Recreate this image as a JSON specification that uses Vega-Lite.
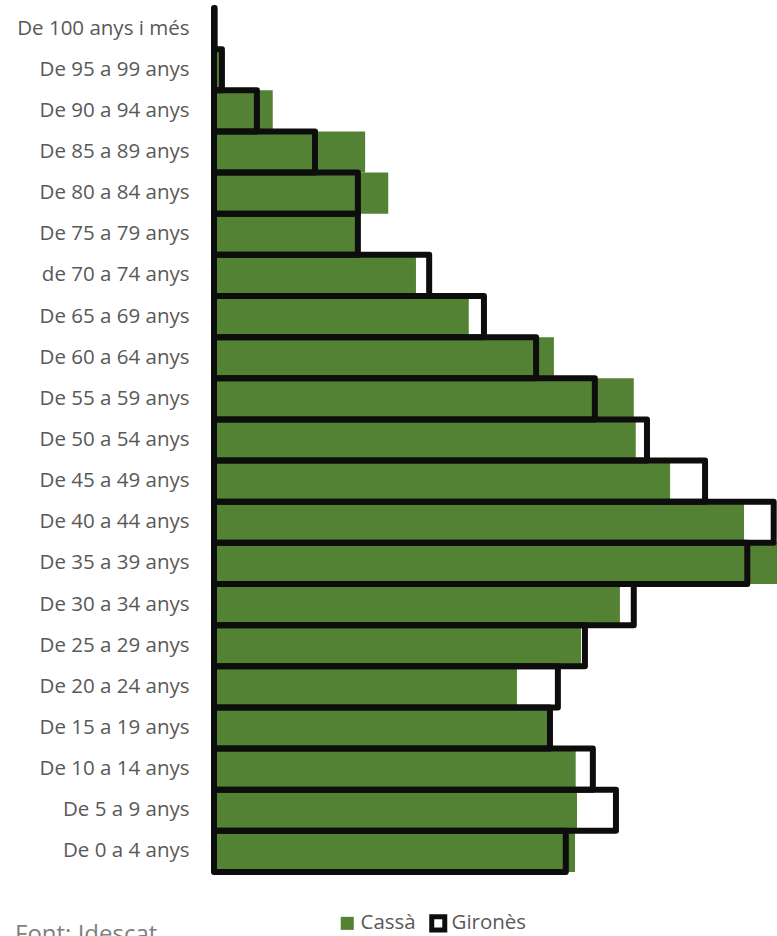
{
  "$schema": "https://vega.github.io/schema/vega-lite/v6.json",
  "width": 563,
  "height": 864,
  "autosize": {"type": "none"},
  "padding": {"left": 214, "top": 8, "right": 0, "bottom": 64},
  "background": "white",
  "config": {
    "view": {"stroke": null},
    "font": "Open Sans"
  },
  "title": {
    "text": "Font: Idescat",
    "orient": "bottom",
    "anchor": "start",
    "frame": "group",
    "dx": -199,
    "offset": -17,
    "baseline": "top",
    "fontSize": 24,
    "fontWeight": "normal",
    "color": "#7f7f7f",
    "font": "Open Sans"
  },
  "data": {
    "values": [
      {"grup": "De 100 anys i més", "serie": "Cassà", "valor": 0.02},
      {"grup": "De 95 a 99 anys", "serie": "Cassà", "valor": 0.08},
      {"grup": "De 90 a 94 anys", "serie": "Cassà", "valor": 0.89},
      {"grup": "De 85 a 89 anys", "serie": "Cassà", "valor": 2.29},
      {"grup": "De 80 a 84 anys", "serie": "Cassà", "valor": 2.64},
      {"grup": "De 75 a 79 anys", "serie": "Cassà", "valor": 2.15},
      {"grup": "de 70 a 74 anys", "serie": "Cassà", "valor": 3.06},
      {"grup": "De 65 a 69 anys", "serie": "Cassà", "valor": 3.86},
      {"grup": "De 60 a 64 anys", "serie": "Cassà", "valor": 5.15},
      {"grup": "De 55 a 59 anys", "serie": "Cassà", "valor": 6.36},
      {"grup": "De 50 a 54 anys", "serie": "Cassà", "valor": 6.39},
      {"grup": "De 45 a 49 anys", "serie": "Cassà", "valor": 6.91},
      {"grup": "De 40 a 44 anys", "serie": "Cassà", "valor": 8.03},
      {"grup": "De 35 a 39 anys", "serie": "Cassà", "valor": 8.7},
      {"grup": "De 30 a 34 anys", "serie": "Cassà", "valor": 6.15},
      {"grup": "De 25 a 29 anys", "serie": "Cassà", "valor": 5.56},
      {"grup": "De 20 a 24 anys", "serie": "Cassà", "valor": 4.59},
      {"grup": "De 15 a 19 anys", "serie": "Cassà", "valor": 5.05},
      {"grup": "De 10 a 14 anys", "serie": "Cassà", "valor": 5.48},
      {"grup": "De 5 a 9 anys", "serie": "Cassà", "valor": 5.5},
      {"grup": "De 0 a 4 anys", "serie": "Cassà", "valor": 5.47},
      {"grup": "De 100 anys i més", "serie": "Gironès", "valor": 0.01},
      {"grup": "De 95 a 99 anys", "serie": "Gironès", "valor": 0.12},
      {"grup": "De 90 a 94 anys", "serie": "Gironès", "valor": 0.65},
      {"grup": "De 85 a 89 anys", "serie": "Gironès", "valor": 1.53},
      {"grup": "De 80 a 84 anys", "serie": "Gironès", "valor": 2.18},
      {"grup": "De 75 a 79 anys", "serie": "Gironès", "valor": 2.18},
      {"grup": "de 70 a 74 anys", "serie": "Gironès", "valor": 3.26},
      {"grup": "De 65 a 69 anys", "serie": "Gironès", "valor": 4.09},
      {"grup": "De 60 a 64 anys", "serie": "Gironès", "valor": 4.88},
      {"grup": "De 55 a 59 anys", "serie": "Gironès", "valor": 5.77},
      {"grup": "De 50 a 54 anys", "serie": "Gironès", "valor": 6.56},
      {"grup": "De 45 a 49 anys", "serie": "Gironès", "valor": 7.44},
      {"grup": "De 40 a 44 anys", "serie": "Gironès", "valor": 8.48},
      {"grup": "De 35 a 39 anys", "serie": "Gironès", "valor": 8.08},
      {"grup": "De 30 a 34 anys", "serie": "Gironès", "valor": 6.36},
      {"grup": "De 25 a 29 anys", "serie": "Gironès", "valor": 5.62},
      {"grup": "De 20 a 24 anys", "serie": "Gironès", "valor": 5.21},
      {"grup": "De 15 a 19 anys", "serie": "Gironès", "valor": 5.09},
      {"grup": "De 10 a 14 anys", "serie": "Gironès", "valor": 5.74},
      {"grup": "De 5 a 9 anys", "serie": "Gironès", "valor": 6.09},
      {"grup": "De 0 a 4 anys", "serie": "Gironès", "valor": 5.33}
    ]
  },
  "encoding": {
    "y": {
      "field": "grup",
      "type": "nominal",
      "sort": null,
      "scale": {"paddingInner": 0, "paddingOuter": 0},
      "axis": {
        "title": null,
        "ticks": false,
        "domain": true,
        "domainColor": "#bfbfbf",
        "domainWidth": 1.5,
        "labelFontSize": 20.5,
        "labelColor": "#595959",
        "labelPadding": 25,
        "labelFont": "Open Sans"
      }
    },
    "x": {
      "field": "valor",
      "type": "quantitative",
      "scale": {"domain": [0, 8.53], "nice": false, "zero": true},
      "axis": null
    },
    "fill": {
      "field": "serie",
      "type": "nominal",
      "scale": {"domain": ["Cassà", "Gironès"], "range": ["#548235", "transparent"]},
      "legend": {
        "title": null,
        "orient": "none",
        "direction": "horizontal",
        "legendX": 123,
        "legendY": 905,
        "symbolType": "square",
        "symbolSize": 170,
        "symbolStrokeWidth": 5,
        "labelFontSize": 20.5,
        "labelColor": "#595959",
        "labelFont": "Open Sans",
        "labelOffset": 3,
        "columnPadding": 5
      }
    },
    "stroke": {
      "field": "serie",
      "type": "nominal",
      "scale": {"domain": ["Cassà", "Gironès"], "range": ["transparent", "#0d0d0d"]},
      "legend": {
        "title": null,
        "orient": "none",
        "direction": "horizontal",
        "legendX": 123,
        "legendY": 905,
        "symbolType": "square",
        "symbolSize": 170,
        "symbolStrokeWidth": 5,
        "labelFontSize": 20.5,
        "labelColor": "#595959",
        "labelFont": "Open Sans",
        "labelOffset": 3,
        "columnPadding": 5
      }
    }
  },
  "layer": [
    {
      "transform": [{"filter": "datum.serie === 'Cassà'"}],
      "mark": {"type": "bar", "clip": true, "strokeWidth": 0}
    },
    {
      "transform": [{"filter": "datum.serie === 'Gironès'"}],
      "mark": {"type": "bar", "strokeWidth": 6, "strokeJoin": "round", "fillOpacity": 0}
    }
  ]
}
